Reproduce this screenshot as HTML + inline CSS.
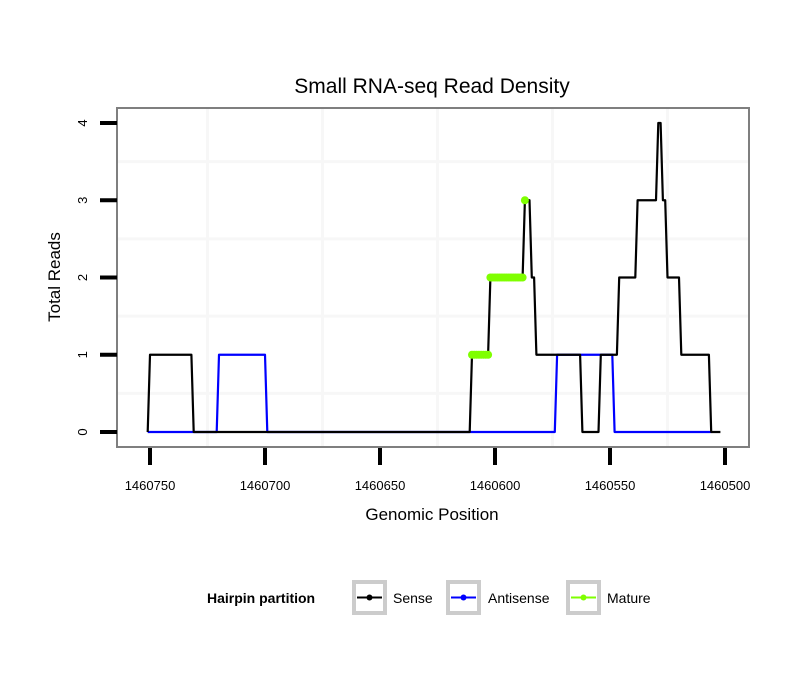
<!DOCTYPE html>
<html><head><meta charset="utf-8"><style>
body{margin:0;background:#fff;}
svg text{font-family:"Liberation Sans",sans-serif;}
</style></head><body>
<svg id="chart" width="810" height="690">
<rect x="0" y="0" width="810" height="690" fill="#fff"/>
<g id="grid"></g>
<g id="series"></g>
<rect x="117" y="108" width="632" height="339" fill="none" stroke="#7f7f7f" stroke-width="2"/>
<g id="axes"></g>
<text x="432" y="93" font-size="21" text-anchor="middle">Small RNA-seq Read Density</text>
<text x="432" y="520" font-size="17" text-anchor="middle">Genomic Position</text>
<text transform="translate(60,277) rotate(-90)" font-size="17" text-anchor="middle">Total Reads</text>
<g>
<text x="207" y="603" font-size="14" font-weight="bold">Hairpin partition</text>
<g>
<rect x="354" y="582" width="31" height="31" fill="#fff" stroke="#cccccc" stroke-width="4"/>
<line x1="357" y1="597.5" x2="382" y2="597.5" stroke="#000" stroke-width="2"/><circle cx="369.5" cy="597.5" r="3" fill="#000"/>
<text x="393" y="603" font-size="14">Sense</text></g>
<g>
<rect x="448" y="582" width="31" height="31" fill="#fff" stroke="#cccccc" stroke-width="4"/>
<line x1="451" y1="597.5" x2="476" y2="597.5" stroke="#0000ff" stroke-width="2"/><circle cx="463.5" cy="597.5" r="3" fill="#0000ff"/>
<text x="488" y="603" font-size="14">Antisense</text></g>
<g>
<rect x="568" y="582" width="31" height="31" fill="#fff" stroke="#cccccc" stroke-width="4"/>
<line x1="571" y1="597.5" x2="596" y2="597.5" stroke="#7fff00" stroke-width="2"/><circle cx="583.5" cy="597.5" r="3" fill="#7fff00"/>
<text x="607" y="603" font-size="14">Mature</text></g>
</g>
</svg>
<script>
const xTicks=[1460750,1460700,1460650,1460600,1460550,1460500];
const yTicks=[0,1,2,3,4];
const xGrid=[1460725,1460675,1460625,1460575,1460525];
const yGrid=[0.5,1.5,2.5,3.5];
const senseX=[1460751,1460750,1460732,1460731,1460611,1460610,1460603,1460602,1460588,1460587,1460585,1460584,1460583,1460582,1460563,1460562,1460555,1460554,1460547,1460546,1460539,1460538,1460530,1460529,1460528,1460527,1460526,1460525,1460520,1460519,1460507,1460506,1460502];
const senseY=[0,1,1,0,0,1,1,2,2,3,3,2,2,1,1,0,0,1,1,2,2,3,3,4,4,3,3,2,2,1,1,0,0];
const antiX=[1460751,1460721,1460720,1460700,1460699,1460574,1460573,1460549,1460548,1460506];
const antiY=[0,0,1,1,0,0,1,1,0,0];
const matureX=[1460610,1460609,1460608,1460607,1460606,1460605,1460604,1460603,1460602,1460601,1460600,1460599,1460598,1460597,1460596,1460595,1460594,1460593,1460592,1460591,1460590,1460589,1460588,1460587];
const matureY=[1,1,1,1,1,1,1,1,2,2,2,2,2,2,2,2,2,2,2,2,2,2,2,3];
const NS="http://www.w3.org/2000/svg";
const X=v=>150+(1460750-v)*2.3;
const Y=v=>432-v*77.25;
function mk(t,a,p){const e=document.createElementNS(NS,t);for(const k in a)e.setAttribute(k,a[k]);p.appendChild(e);return e;}
const grid=document.getElementById('grid'),axes=document.getElementById('axes'),ser=document.getElementById('series');
xGrid.forEach(v=>{const l=mk('line',{x1:X(v),x2:X(v),y1:108,y2:447,stroke:'#f7f7f7','stroke-width':3},grid);

});
yGrid.forEach(v=>{const l=mk('line',{x1:117,x2:749,y1:Y(v),y2:Y(v),stroke:'#f7f7f7','stroke-width':3},grid);

});
xTicks.forEach(v=>{const l=mk('line',{x1:X(v),x2:X(v),y1:448,y2:465,stroke:'#000','stroke-width':4},axes);


const t=mk('text',{x:X(v),y:490,'font-size':13,'text-anchor':'middle'},axes);t.textContent=v;

});
yTicks.forEach(v=>{const l=mk('line',{x1:100,x2:117,y1:Y(v),y2:Y(v),stroke:'#000','stroke-width':4},axes);


const t=mk('text',{transform:`translate(87,${Y(v)}) rotate(-90)`,'font-size':13,'text-anchor':'middle'},axes);t.textContent=v;

});
function path(xs,ys,col,w,name){const d=xs.map((x,i)=>(i?'L':'M')+X(x)+' '+Y(ys[i])).join(' ');
const p=mk('path',{d:d,fill:'none',stroke:col,'stroke-width':w,'stroke-linejoin':'round'},ser);

}
path(antiX,antiY,'#0000ff',2.2,'antisense-line');
path(senseX,senseY,'#000',2.2,'sense-line');
const mg=mk('g',{},ser);


for(let i=0;i<matureX.length;i++){
  if(i>0&&matureY[i]===matureY[i-1]){const l=mk('line',{x1:X(matureX[i-1]),x2:X(matureX[i]),y1:Y(matureY[i]),y2:Y(matureY[i]),stroke:'#7fff00','stroke-width':5},mg);
  
  }
  const c=mk('circle',{cx:X(matureX[i]),cy:Y(matureY[i]),r:4,fill:'#7fff00'},mg);
  
  
}
</script>
</body></html>
